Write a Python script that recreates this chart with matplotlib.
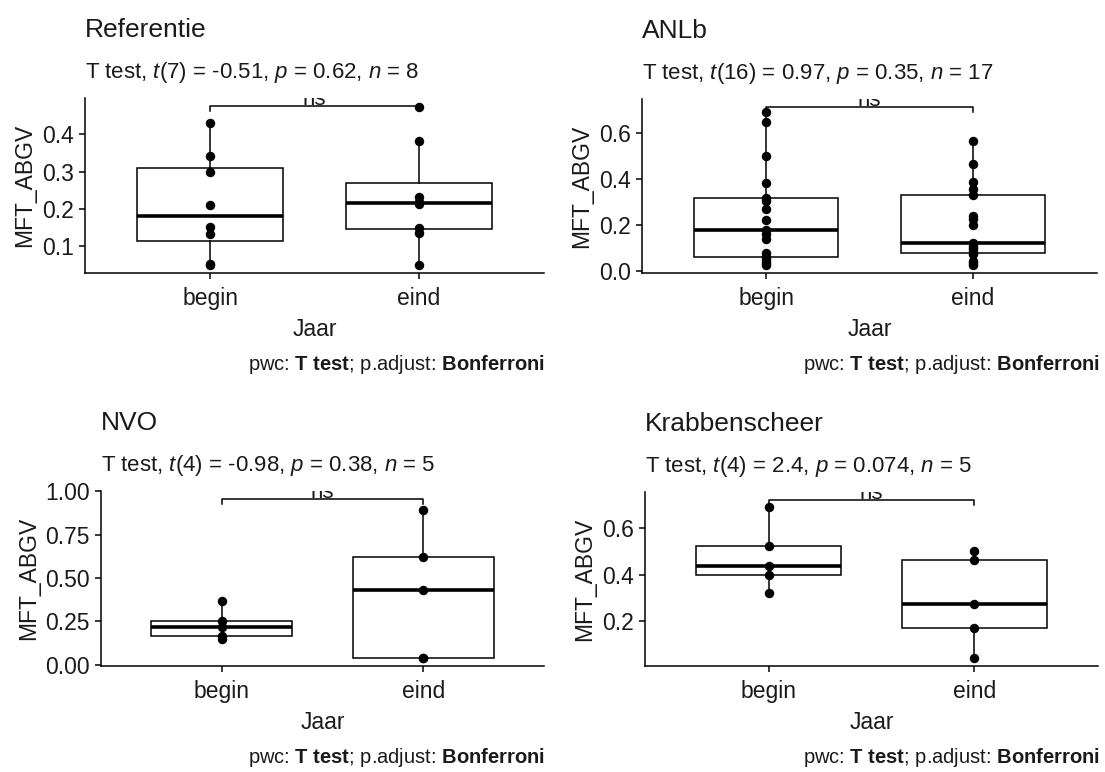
import numpy as np
import matplotlib
matplotlib.use("Agg")
import matplotlib.pyplot as plt

plt.rcParams['font.family'] = ['Liberation Sans', 'DejaVu Sans']
plt.rcParams['mathtext.fontset'] = 'custom'
plt.rcParams['mathtext.rm'] = 'Liberation Sans'
plt.rcParams['mathtext.it'] = 'Liberation Sans:italic'
plt.rcParams['mathtext.bf'] = 'Liberation Sans:bold'

# groups and panel texts
groups = ['begin', 'eind']
titles = ['Referentie', 'ANLb', 'NVO', 'Krabbenscheer']
subtitles = [r'T test, $t$(7) = -0.51, $p$ = 0.62, $n$ = 8',
             r'T test, $t$(16) = 0.97, $p$ = 0.35, $n$ = 17',
             r'T test, $t$(4) = -0.98, $p$ = 0.38, $n$ = 5',
             r'T test, $t$(4) = 2.4, $p$ = 0.074, $n$ = 5']
caption = r'pwc: $\mathbf{T\ test}$; p.adjust: $\mathbf{Bonferroni}$'

# MFT_ABGV per location, begin vs eind
ref_begin = [0.05, 0.054, 0.134, 0.152, 0.21, 0.298, 0.341, 0.43]
ref_eind = [0.051, 0.137, 0.15, 0.214, 0.22, 0.233, 0.383, 0.472]
anlb_begin = [0.026, 0.035, 0.045, 0.055, 0.06, 0.08, 0.14, 0.162, 0.179,
              0.222, 0.27, 0.305, 0.315, 0.383, 0.497, 0.645, 0.69]
anlb_eind = [0.026, 0.035, 0.045, 0.075, 0.079, 0.09, 0.1, 0.107, 0.123,
             0.2, 0.226, 0.24, 0.329, 0.355, 0.385, 0.464, 0.564]
nvo_begin = [0.148, 0.168, 0.216, 0.252, 0.365]
nvo_eind = [0.038, 0.04, 0.433, 0.62, 0.893]
krab_begin = [0.322, 0.399, 0.437, 0.525, 0.693]
krab_eind = [0.04, 0.168, 0.272, 0.465, 0.502]

bracket_y = [0.476, 0.711, 0.956, 0.722]
yticks = [[0.1, 0.2, 0.3, 0.4], [0.0, 0.2, 0.4, 0.6],
          [0.0, 0.25, 0.5, 0.75, 1.0], [0.2, 0.4, 0.6]]
tick_fmt = ['{:.1f}', '{:.1f}', '{:.2f}', '{:.1f}']

data = [(ref_begin, ref_eind), (anlb_begin, anlb_eind),
        (nvo_begin, nvo_eind), (krab_begin, krab_eind)]

W, H = 1105, 772
fig = plt.figure(figsize=(W / 100, H / 100), dpi=100)

# panel boxes in pixels: left, top, right, bottom
boxes = [(85, 98, 544, 273), (642, 99, 1097, 273),
         (101, 491, 544, 666), (645, 492, 1098, 666)]
cap_right = [545, 1100, 545, 1100]

txt = '#1a1a1a'

for k in range(4):
    l, t, r, b = boxes[k]
    ax = fig.add_axes([l / W, 1 - b / H, (r - l) / W, (b - t) / H])
    vb, ve = data[k]

    ax.boxplot([vb, ve], positions=[1, 2], widths=0.7, whis=1.5,
               showfliers=False, showcaps=False, patch_artist=True,
               boxprops=dict(facecolor='white', edgecolor='black', linewidth=1.1),
               medianprops=dict(color='black', linewidth=2.6),
               whiskerprops=dict(color='black', linewidth=1.1))
    for i, vals in enumerate([vb, ve]):
        ax.plot(np.full(len(vals), i + 1), vals, 'o', color='black',
                ms=5.8, zorder=4)

    # y range like ggplot: data + bracket, 5% expansion
    lo = min(min(vb), min(ve))
    hi = bracket_y[k]
    pad = 0.05 * (hi - lo)
    ax.set_ylim(lo - pad, hi + pad)
    ax.set_xlim(0.4, 2.6)

    tip = 0.03 * (hi - lo + 2 * pad)
    yb = bracket_y[k]
    ax.plot([1, 1, 2, 2], [yb - tip, yb, yb, yb - tip], color='black', lw=1.1)
    ax.text(1.5, yb + 0.004 * (hi - lo), 'ns', ha='center', va='baseline',
            fontsize=16, color=txt, clip_on=True)

    ax.set_xticks([1, 2])
    ax.set_xticklabels(groups)
    ax.set_yticks(yticks[k])
    ax.set_yticklabels([tick_fmt[k].format(v) for v in yticks[k]])
    ax.tick_params(direction='out', length=4, width=1.1, labelsize=16.5,
                   pad=4, labelcolor=txt)
    ax.tick_params(axis='x', pad=6)
    for s in ['top', 'right']:
        ax.spines[s].set_visible(False)
    for s in ['left', 'bottom']:
        ax.spines[s].set_linewidth(1.1)
    ax.set_xlabel('Jaar', fontsize=16.5, color=txt, labelpad=6)
    ax.set_ylabel('MFT_ABGV', fontsize=16.5, color=txt, labelpad=4)

    fig.text(l / W, 1 - (t - 61) / H, titles[k], fontsize=19, color=txt,
             ha='left', va='baseline')
    fig.text(l / W, 1 - (t - 20) / H, subtitles[k], fontsize=16, color=txt,
             ha='left', va='baseline')
    fig.text(cap_right[k] / W, 1 - (b + 97) / H, caption, fontsize=14.5,
             color=txt, ha='right', va='baseline')

fig.savefig('out.png', dpi=100, facecolor='white')
